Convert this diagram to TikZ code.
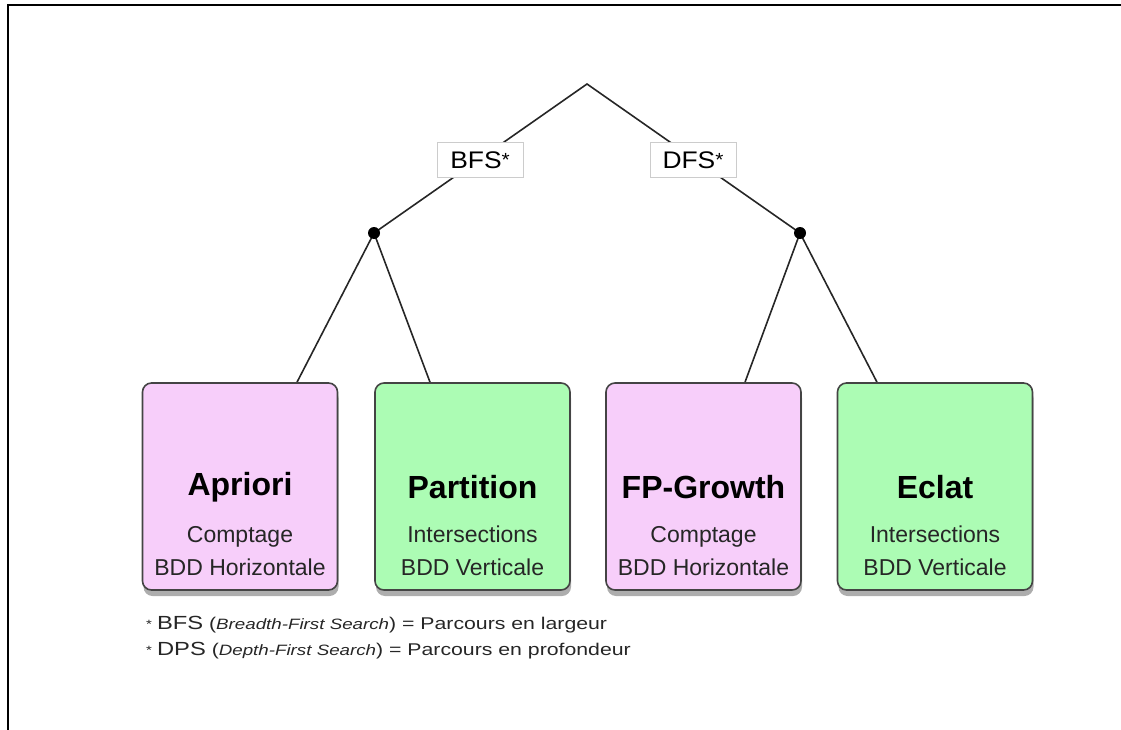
\documentclass[tikz,border=0pt]{standalone}
\usepackage{fontspec}
\setmainfont{Liberation Sans}
\usetikzlibrary{shadows,backgrounds,calc}
\definecolor{algpink}{HTML}{F7CEFA}
\definecolor{alggreen}{HTML}{ACFCB4}
\definecolor{boxborder}{HTML}{444444}
\tikzset{
  algbox/.style={draw=boxborder, line width=1.6pt, rounded corners=9pt,
    minimum width=195pt, minimum height=207pt, inner sep=0pt,
    drop shadow={shadow xshift=1pt, shadow yshift=-6pt, opacity=0.4, fill=black!80}},
  pinkbox/.style={algbox, fill=algpink},
  greenbox/.style={algbox, fill=alggreen},
  algtitle/.style={font=\fontsize{32}{36}\selectfont\bfseries, inner sep=0pt},
  algsub/.style={font=\fontsize{23}{33}\selectfont, align=center, inner sep=0pt, text=black!85},
  searchlabel/.style={draw=black!20, fill=white, line width=0.8pt,
    font=\fontsize{24}{28}\selectfont\addfontfeatures{FakeStretch=1.1}, minimum width=86pt, minimum height=35pt, inner sep=2pt},
  junction/.style={circle, fill=black, minimum size=12pt, inner sep=0pt},
  edge/.style={draw=black!85, line width=1.6pt},
  frameline/.style={draw=black, line width=2pt},
  footnote/.style={anchor=west, inner sep=0pt, text=black!85,
    font=\fontsize{17}{20}\selectfont\addfontfeatures{FakeStretch=1.25}}
}
\begin{document}
\begin{tikzpicture}[x=1pt, y=-1pt]
\useasboundingbox (0,0) rectangle (1121,730);
% frame
\coordinate (ftr) at (1121,5.5);
\coordinate (ftl) at (7.5,5.5);
\coordinate (fbl) at (7.5,730);
\draw[frameline] (ftr) -- (ftl) -- (fbl);

% tree
\coordinate (apex) at (587,84);
\node[junction] (jb) at (374,233) {};
\node[junction] (jd) at (800,233) {};
\node[searchlabel] (bfs) at (480,160) {BFS\raisebox{2pt}{\fontsize{19}{20}\selectfont *}};
\node[searchlabel] (dfs) at (693,160) {DFS\raisebox{2pt}{\fontsize{19}{20}\selectfont *}};

\node[pinkbox]  (apriori)   at (240,486.5) {};
\node[greenbox] (partition) at (472.5,486.5) {};
\node[pinkbox]  (fpgrowth)  at (703.5,486.5) {};
\node[greenbox] (eclat)     at (935,486.5) {};

\begin{scope}[on background layer]
\draw[edge] (jb.center) -- (apex) -- (jd.center);
\draw[edge] (jb.center) -- ($(apriori.north)+(57,0)$);
\draw[edge] (jb.center) -- ($(partition.north)+(-42.5,0)$);
\draw[edge] (jd.center) -- ($(fpgrowth.north)+(41.5,0)$);
\draw[edge] (jd.center) -- ($(eclat.north)+(-58,0)$);
\end{scope}

\node[algtitle] (aprT) at (240,487) {Apriori};
\node[algsub]   (aprS) at (240,551) {Comptage\\BDD Horizontale};
\node[algtitle] (parT) at (472.5,487) {Partition};
\node[algsub]   (parS) at (472.5,551) {Intersections\\BDD Verticale};
\node[algtitle] (fpT)  at (703.5,487) {FP-Growth};
\node[algsub]   (fpS)  at (703.5,551) {Comptage\\BDD Horizontale};
\node[algtitle] (ecT)  at (935,487) {Eclat};
\node[algsub]   (ecS)  at (935,551) {Intersections\\BDD Verticale};

% footnotes
\node[footnote] (note1) at (146,625)
  {\raisebox{1pt}{\fontsize{12}{14}\selectfont *}\hspace{5pt}{\fontsize{19}{22}\selectfont BFS} (\textit{\fontsize{15}{18}\selectfont Breadth-First Search}) = Parcours en largeur};
\node[footnote] (note2) at (146,651)
  {\raisebox{1pt}{\fontsize{12}{14}\selectfont *}\hspace{5pt}{\fontsize{19}{22}\selectfont DPS} (\textit{\fontsize{15}{18}\selectfont Depth-First Search}) = Parcours en profondeur};
\end{tikzpicture}
\end{document}
